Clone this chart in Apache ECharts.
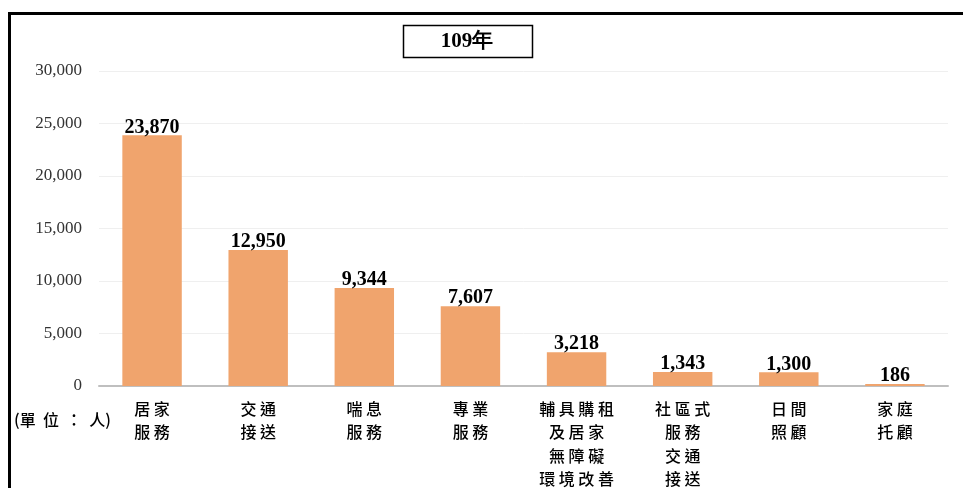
<!DOCTYPE html>
<html>
<head>
<meta charset="utf-8">
<script src="https://cdn.jsdelivr.net/npm/echarts@6/dist/echarts.min.js"></script>
<style>
  html, body { margin: 0; padding: 0; background: #fff; }
  #chart { width: 963px; height: 488px; }
</style>
</head>
<body>
<div id="chart"></div>
<script>
// Service categories (multi-line labels) and people served in 109年
const categories = [
  '居 家\n服 務',
  '交 通\n接 送',
  '喘 息\n服 務',
  '專 業\n服 務',
  '輔 具 購 租\n及 居 家\n無 障 礙\n環 境 改 善',
  '社 區 式\n服 務\n交 通\n接 送',
  '日 間\n照 顧',
  '家 庭\n托 顧'
];
const values = [23870, 12950, 9344, 7607, 3218, 1343, 1300, 186];
const yTicks = { min: 0, max: 30000, interval: 5000 };
const titleText = '109年';
const unitText = '(單  位  ：  人)';

const serif = '"Liberation Serif", "Times New Roman", serif';
const cjk = '"Noto Sans CJK TC", "Noto Sans CJK SC", sans-serif';

const chart = echarts.init(document.getElementById('chart'), null, { renderer: 'canvas' });

chart.setOption({
  animation: false,
  backgroundColor: '#ffffff',
  grid: {
    left: 99, right: 15, top: 71, bottom: 102,
    containLabel: false,
    outerBoundsMode: 'none'
  },
  xAxis: {
    type: 'category',
    data: categories,
    axisLine: { lineStyle: { color: '#bfbfbf', width: 2 } },
    axisTick: { show: false },
    axisLabel: {
      interval: 0,
      margin: 11,
      color: '#000',
      fontFamily: cjk,
      fontWeight: 500,
      fontSize: 16,
      lineHeight: 23.5
    }
  },
  yAxis: {
    type: 'value',
    min: yTicks.min,
    max: yTicks.max,
    interval: yTicks.interval,
    axisLine: { show: false },
    axisTick: { show: false },
    splitLine: { lineStyle: { color: '#efefef', width: 1 } },
    axisLabel: {
      margin: 17,
      color: '#333333',
      fontFamily: serif,
      fontSize: 17,
      formatter: v => v.toLocaleString('en-US')
    }
  },
  series: [{
    type: 'bar',
    data: values,
    barWidth: '56%',
    itemStyle: { color: '#f0a46d' },
    label: {
      show: true,
      position: 'top',
      distance: -2,
      color: '#000',
      fontFamily: serif,
      fontWeight: 'bold',
      fontSize: 20,
      formatter: p => p.value.toLocaleString('en-US')
    }
  }],
  graphic: [
    // outer frame (left and top edges)
    {
      type: 'polyline',
      shape: { points: [[9.5, 500], [9.5, 13.5], [970, 13.5]] },
      style: { stroke: '#000', lineWidth: 3, fill: null }
    },
    // boxed title
    {
      type: 'rect',
      shape: { x: 403.5, y: 25.5, width: 129, height: 32 },
      style: { stroke: '#000', lineWidth: 1.5, fill: '#fff' }
    },
    {
      type: 'text',
      x: 467, y: 42,
      style: {
        text: titleText,
        font: 'bold 21px ' + serif,
        fill: '#000',
        align: 'center',
        verticalAlign: 'middle'
      }
    },
    // unit note
    {
      type: 'text',
      x: 14, y: 420,
      style: {
        text: unitText,
        font: '500 16px ' + cjk,
        fill: '#000',
        align: 'left',
        verticalAlign: 'middle'
      }
    }
  ]
});
</script>
</body>
</html>
